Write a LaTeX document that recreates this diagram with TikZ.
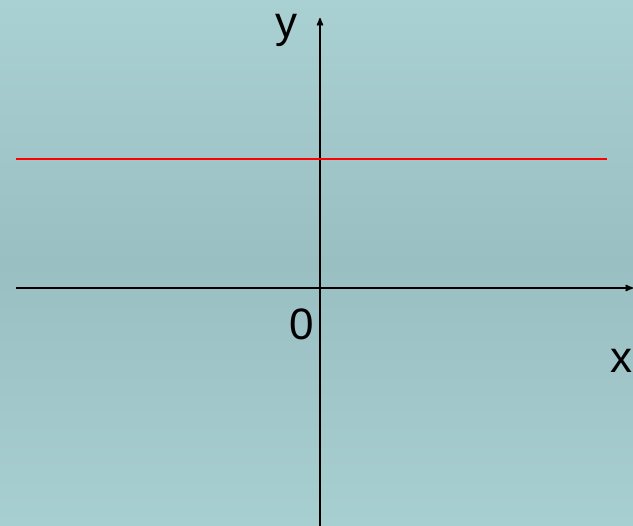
\documentclass[tikz,border=0pt]{standalone}
\usepackage{fontspec}
\setmainfont{Liberation Sans}
\usetikzlibrary{arrows,positioning}
\definecolor{bgtop}{RGB}{169,208,210}
\definecolor{bgmid}{RGB}{154,191,195}
\definecolor{bgbot}{RGB}{167,206,209}
\tikzset{
    %Define standard arrow tip
    >=stealth',
    axis/.style={
      draw=black, line width=1.6pt},
    level/.style={
      draw=red, line width=1.6pt},
    lbl/.style={
      font=\fontsize{44}{44}\selectfont,
      text=black,
      inner sep=0pt},
}
\begin{document}
\begin{tikzpicture}[x=1pt,y=-1pt]
    \fill[top color=bgtop,bottom color=bgbot,middle color=bgmid]
          (0,0) rectangle (633,526);
    \useasboundingbox (0,0) rectangle (633,526);
    % axes
    \coordinate (xstart) at (16,288);
    \coordinate (xend) at (633,288);
    \coordinate (ystart) at (320,526);
    \coordinate (yend) at (320,18);
    \coordinate (lstart) at (16,159);
    \coordinate (lend) at (607,159);
    \draw [axis,->] (xstart) -- (xend);
    \draw [axis,->] (ystart) -- (yend);
    \draw [level] (lstart) -- (lend);
    \node (ylbl) [lbl] at (286,30) {y};
    \node (xlbl) [lbl] at (621,361) {x};
    \node (olbl) [lbl] at (302,324) {0};
\end{tikzpicture}
\end{document}
